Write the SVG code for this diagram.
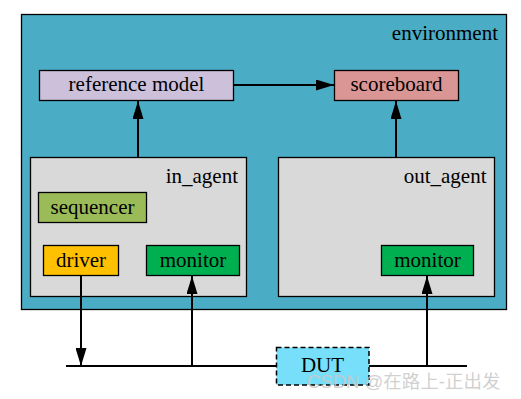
<svg xmlns="http://www.w3.org/2000/svg" width="521" height="399" viewBox="0 0 521 399">
<style>
  text { font-family: "Liberation Serif", "Times New Roman", serif; font-size: 21px; fill: #000; }
  .box { stroke: #000; stroke-width: 1.3; }
  .conn { stroke: #000; stroke-width: 2; fill: none; }
  .wm { font-family: "Liberation Sans", "Noto Sans CJK SC", sans-serif; font-size: 18.5px; fill: #c8c8c8; fill-opacity: 0.85; }
</style>
<defs>
  <marker id="ah" markerUnits="userSpaceOnUse" markerWidth="18" markerHeight="11" refX="18" refY="5.5" orient="auto">
    <path d="M0,0 L18,5.5 L0,11 z" fill="#000"/>
  </marker>
</defs>
<rect width="521" height="399" fill="#fff"/>
<g id="environment">
  <rect class="box" x="21.5" y="14.5" width="485" height="295" fill="#4BACC6"/>
  <text x="498" y="40" text-anchor="end">environment</text>
</g>
<g id="reference_model">
  <rect class="box" x="39.5" y="70.5" width="194" height="30" fill="#CCC0DA"/>
  <text x="136.5" y="91" text-anchor="middle">reference model</text>
</g>
<g id="scoreboard">
  <rect class="box" x="334.5" y="70.5" width="124" height="30" fill="#DA9694"/>
  <text x="396.5" y="91" text-anchor="middle">scoreboard</text>
</g>
<g id="in_agent">
  <rect class="box" x="30.5" y="157.5" width="216" height="139" fill="#D9D9D9"/>
  <text x="238" y="183" text-anchor="end">in_agent</text>
</g>
<g id="out_agent">
  <rect class="box" x="278.5" y="157.5" width="216" height="139" fill="#D9D9D9"/>
  <text x="486.5" y="183" text-anchor="end">out_agent</text>
</g>
<g id="sequencer">
  <rect class="box" x="38.5" y="192.5" width="108" height="30" fill="#9BBB59"/>
  <text x="92.5" y="213.5" text-anchor="middle">sequencer</text>
</g>
<g id="driver">
  <rect class="box" x="43.5" y="245.5" width="75" height="30" fill="#FFC000"/>
  <text x="81" y="266.5" text-anchor="middle">driver</text>
</g>
<g id="in_monitor">
  <rect class="box" x="146.5" y="245.5" width="93" height="30" fill="#00B050"/>
  <text x="193" y="266.5" text-anchor="middle">monitor</text>
</g>
<g id="out_monitor">
  <rect class="box" x="381.5" y="245.5" width="92" height="30" fill="#00B050"/>
  <text x="427.5" y="266.5" text-anchor="middle">monitor</text>
</g>
<g id="connectors">
  <line class="conn" x1="233.5" y1="85" x2="334" y2="85" marker-end="url(#ah)"/>
  <line class="conn" x1="138" y1="157" x2="138" y2="101" marker-end="url(#ah)"/>
  <line class="conn" x1="396" y1="157" x2="396" y2="101" marker-end="url(#ah)"/>
  <line class="conn" x1="81" y1="276" x2="81" y2="366" marker-end="url(#ah)"/>
  <line class="conn" x1="192" y1="366" x2="192" y2="276" marker-end="url(#ah)"/>
  <line class="conn" x1="427" y1="366" x2="427" y2="276" marker-end="url(#ah)"/>
  <line class="conn" x1="66" y1="366" x2="467" y2="366"/>
</g>
<g id="DUT">
  <rect x="276.5" y="347.5" width="92.5" height="37.5" fill="#78DFFA" stroke="#000" stroke-width="1.5" stroke-dasharray="5,3"/>
  <text x="322.5" y="371.5" text-anchor="middle">DUT</text>
</g>
<text class="wm" x="307" y="388">CSDN @在路上-正出发</text>
</svg>
